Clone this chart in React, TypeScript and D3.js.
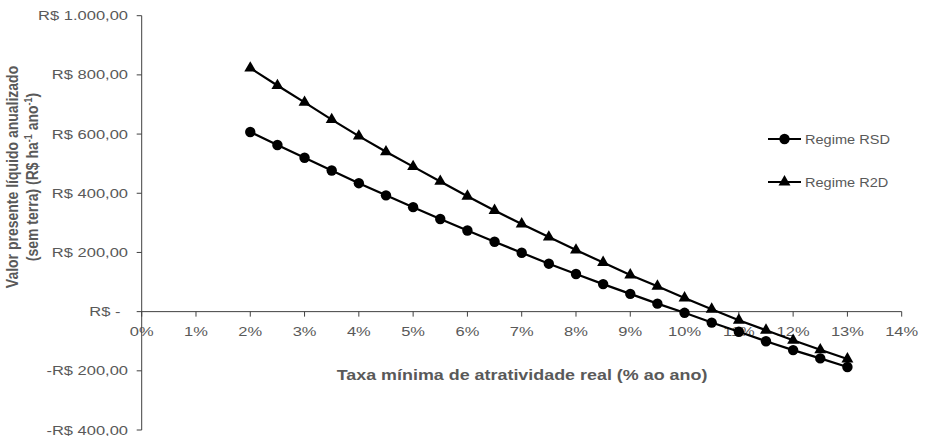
import React from "react";
import * as d3 from "d3";

// Real minimum attractiveness rate (% per year)
const rates = [2, 2.5, 3, 3.5, 4, 4.5, 5, 5.5, 6, 6.5, 7, 7.5, 8, 8.5, 9, 9.5, 10, 10.5, 11, 11.5, 12, 12.5, 13];

// Annualized net present value (R$ ha-1 ano-1)
const regimeRSD = [607, 563, 520, 477, 434, 393, 353, 313, 274, 236, 199, 162, 127, 93, 60, 27, -4, -37, -68, -100, -130, -158, -187];
const regimeR2D = [823, 764, 707, 649, 593, 540, 490, 440, 390, 342, 296, 252, 208, 166, 124, 86, 46, 8, -29, -63, -97, -129, -160];

const seriesNames = ["Regime RSD", "Regime R2D"];

const xTicks = [0, 1, 2, 3, 4, 5, 6, 7, 8, 9, 10, 11, 12, 13, 14];
const yTicks = [1000, 800, 600, 400, 200, 0, -200, -400];

const W = 925;
const H = 436;
const FONT = "'Liberation Sans', Arial, sans-serif";
const GREY = "#595959";
const AXIS = "#404040";

const fmtY = (v: number) => {
  if (v === 0) return "R$ -";
  const s = d3.format(",.2f")(Math.abs(v)).replace(/,/g, "X").replace(/\./g, ",").replace(/X/g, ".");
  return (v < 0 ? "-" : "") + "R$ " + s;
};

// Text drawn with a horizontal stretch around its anchor point
function WideText(props: {
  x: number;
  y: number;
  sx: number;
  anchor?: "start" | "middle" | "end";
  size: number;
  bold?: boolean;
  children: React.ReactNode;
}) {
  return (
    <text
      transform={`translate(${props.x},${props.y}) scale(${props.sx},1)`}
      textAnchor={props.anchor || "start"}
      fontSize={props.size}
      fontWeight={props.bold ? "bold" : "normal"}
      fill={GREY}
    >
      {props.children}
    </text>
  );
}

export default function App() {
  const x = d3.scaleLinear().domain([0, 14]).range([141.7, 901.7]);
  const y = d3.scaleLinear().domain([-400, 1000]).range([430, 15.7]);

  const line = d3
    .line<[number, number]>()
    .x((d) => x(d[0]))
    .y((d) => y(d[1]));

  const rsd: [number, number][] = rates.map((r, i) => [r, regimeRSD[i]]);
  const r2d: [number, number][] = rates.map((r, i) => [r, regimeR2D[i]]);

  const tri = d3.symbol().type(d3.symbolTriangle).size(62)();

  const legendX0 = 768;
  const legendX1 = 801;
  const legendY = [139, 182];
  const TICK_SX = 1.27;

  return (
    <svg
      width={W}
      height={H}
      style={{ position: "absolute", left: 0, top: 0, background: "#fff" }}
      fontFamily={FONT}
    >
      {/* x tick labels (drawn before the axis line so the axis overlays "0%") */}
      {xTicks.map((t) => (
        <WideText key={"xl" + t} x={x(t)} y={336} sx={TICK_SX} anchor="middle" size={13}>
          {t + "%"}
        </WideText>
      ))}

      {/* y axis */}
      <line x1={x(0)} x2={x(0)} y1={y(1000)} y2={y(-400)} stroke={AXIS} strokeWidth={1} />
      {yTicks.map((t) => (
        <g key={"yt" + t}>
          <line x1={x(0) - 5} x2={x(0)} y1={y(t)} y2={y(t)} stroke={AXIS} strokeWidth={1} />
          <WideText x={t === 0 ? 120.5 : 128} y={y(t) + 4.5} sx={TICK_SX} anchor="end" size={13}>
            {fmtY(t)}
          </WideText>
        </g>
      ))}

      {/* x axis at zero */}
      <line x1={x(0)} x2={x(14)} y1={y(0)} y2={y(0)} stroke={AXIS} strokeWidth={1} />
      {xTicks.map((t) => (
        <line key={"xt" + t} x1={x(t)} x2={x(t)} y1={y(0)} y2={y(0) + 5} stroke={AXIS} strokeWidth={1} />
      ))}

      {/* series */}
      <path d={line(rsd) || ""} fill="none" stroke="#000" strokeWidth={2.2} />
      <path d={line(r2d) || ""} fill="none" stroke="#000" strokeWidth={2.2} />
      {rsd.map((d, i) => (
        <circle key={"c" + i} cx={x(d[0])} cy={y(d[1])} r={5.2} fill="#000" />
      ))}
      {r2d.map((d, i) => (
        <path key={"t" + i} d={tri || ""} transform={`translate(${x(d[0])},${y(d[1])})`} fill="#000" />
      ))}

      {/* legend */}
      <g>
        <line x1={legendX0} x2={legendX1} y1={legendY[0]} y2={legendY[0]} stroke="#000" strokeWidth={2.2} />
        <circle cx={(legendX0 + legendX1) / 2} cy={legendY[0]} r={5.2} fill="#000" />
        <WideText x={805} y={legendY[0] + 4.5} sx={1.12} size={13}>
          {seriesNames[0]}
        </WideText>
        <line x1={legendX0} x2={legendX1} y1={legendY[1]} y2={legendY[1]} stroke="#000" strokeWidth={2.2} />
        <path d={tri || ""} transform={`translate(${(legendX0 + legendX1) / 2},${legendY[1]})`} fill="#000" />
        <WideText x={805} y={legendY[1] + 4.5} sx={1.12} size={13}>
          {seriesNames[1]}
        </WideText>
      </g>

      {/* axis titles */}
      <WideText x={522} y={380} sx={1.28} anchor="middle" size={14} bold>
        Taxa mínima de atratividade real (% ao ano)
      </WideText>
      <g transform="translate(0,177) scale(1.15,1) rotate(-90)">
        <text x={0} y={16} textAnchor="middle" fontSize={14} fontWeight="bold" fill={GREY}>
          Valor presente líquido anualizado
        </text>
        <text x={0} y={33} textAnchor="middle" fontSize={14} fontWeight="bold" fill={GREY}>
          (sem terra) (R$ ha
          <tspan fontSize={9} dy={-5}>-1</tspan>
          <tspan dy={5}> ano</tspan>
          <tspan fontSize={9} dy={-5}>-1</tspan>
          <tspan dy={5}>)</tspan>
        </text>
      </g>
    </svg>
  );
}
